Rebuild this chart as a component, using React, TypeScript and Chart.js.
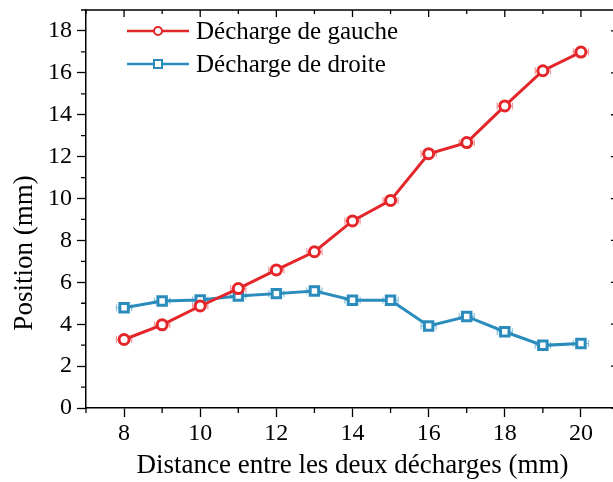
import React, { useEffect, useRef } from "react";
import { Chart, registerables } from "chart.js";

Chart.register(...registerables);

const distances = [8, 9, 10, 11, 12, 13, 14, 15, 16, 17, 18, 19, 20];
const gauche = [3.27, 3.97, 4.87, 5.70, 6.59, 7.46, 8.93, 9.91, 12.14, 12.67, 14.42, 16.10, 16.99];
const droite = [4.79, 5.11, 5.16, 5.35, 5.46, 5.59, 5.14, 5.14, 3.92, 4.37, 3.64, 2.99, 3.08];
const xErrGauche = [0.2, 0.2, 0.2, 0.2, 0.2, 0.2, 0.2, 0.2, 0.2, 0.2, 0.2, 0.2, 0.2];
const xErrDroite = [0.2, 0.2, 0.2, 0.2, 0.2, 0.2, 0.2, 0.2, 0.2, 0.2, 0.2, 0.2, 0.2];
const seriesLabels = ["Décharge de gauche", "Décharge de droite"];
const xTitle = "Distance entre les deux décharges (mm)";
const yTitle = "Position (mm)";

const RED = "#e4262a";
const BLUE = "#2a8cbc";
const RED_LIGHT = "#f2999b";
const BLUE_LIGHT = "#8cc3de";
const FONT = "'Liberation Serif', 'Times New Roman', serif";

const W = 640;
const H = 474;

function zeroPad(s: any) {
  s.paddingTop = 0;
  s.paddingBottom = 0;
  s.paddingLeft = 0;
  s.paddingRight = 0;
}

export default function App() {
  const ref = useRef<HTMLCanvasElement | null>(null);
  useEffect(() => {
    const canvas = ref.current!;
    const errPlugin = {
      id: "errbars",
      beforeDatasetsDraw(chart: any) {
        const ctx = chart.ctx;
        const xs = chart.scales.x;
        const ys = chart.scales.y;
        const sets = [
          { v: gauche, e: xErrGauche, c: RED_LIGHT },
          { v: droite, e: xErrDroite, c: BLUE_LIGHT },
        ];
        ctx.save();
        ctx.lineWidth = 1.2;
        sets.forEach((s) => {
          ctx.strokeStyle = s.c;
          distances.forEach((d, i) => {
            const y = ys.getPixelForValue(s.v[i]);
            const x1 = xs.getPixelForValue(d - s.e[i]);
            const x2 = xs.getPixelForValue(d + s.e[i]);
            ctx.beginPath();
            ctx.moveTo(x1, y);
            ctx.lineTo(x2, y);
            ctx.moveTo(x1, y - 3.5);
            ctx.lineTo(x1, y + 3.5);
            ctx.moveTo(x2, y - 3.5);
            ctx.lineTo(x2, y + 3.5);
            ctx.stroke();
          });
        });
        ctx.restore();
      },
    };
    const framePlugin = {
      id: "frame",
      afterDraw(chart: any) {
        const ctx = chart.ctx;
        const { left, right, top, bottom } = chart.chartArea;
        const xs = chart.scales.x;
        const ys = chart.scales.y;
        ctx.save();
        ctx.strokeStyle = "#000";
        ctx.lineWidth = 1.5;
        ctx.beginPath();
        ctx.moveTo(left, top);
        ctx.lineTo(right, top);
        ctx.lineTo(right, bottom);
        ctx.stroke();
        ctx.lineWidth = 1.3;
        ctx.beginPath();
        for (let v = xs.min; v <= xs.max; v++) {
          const x = xs.getPixelForValue(v);
          const major = v % 2 === 0;
          if (!major) {
            ctx.moveTo(x, bottom);
            ctx.lineTo(x, bottom + 5);
          }
          ctx.moveTo(x, top);
          ctx.lineTo(x, top + (major ? 7 : 4));
        }
        for (let v = ys.min; v <= ys.max; v++) {
          const y = ys.getPixelForValue(v);
          const major = v % 2 === 0;
          if (!major) {
            ctx.moveTo(left - 5, y);
            ctx.lineTo(left, y);
          }
          ctx.moveTo(right, y);
          ctx.lineTo(right - (major ? 8 : 4), y);
        }
        ctx.stroke();

        // y title
        ctx.fillStyle = "#000";
        ctx.font = `27px ${FONT}`;
        ctx.textAlign = "center";
        ctx.textBaseline = "middle";
        ctx.translate(17, 245);
        ctx.rotate(-Math.PI / 2);
        ctx.fillText(yTitle, 0, 0);
        ctx.restore();

        // legend
        ctx.save();
        const rows = [
          { label: seriesLabels[0], color: RED, style: "circle", y: 23 },
          { label: seriesLabels[1], color: BLUE, style: "rect", y: 56 },
        ];
        rows.forEach((r) => {
          ctx.strokeStyle = r.color;
          ctx.lineWidth = 2.5;
          ctx.beginPath();
          ctx.moveTo(119, r.y);
          ctx.lineTo(181, r.y);
          ctx.stroke();
          ctx.fillStyle = "#fff";
          ctx.lineWidth = 2;
          ctx.beginPath();
          if (r.style === "circle") {
            ctx.arc(150, r.y, 4, 0, Math.PI * 2);
          } else {
            ctx.rect(146, r.y - 4, 8, 8);
          }
          ctx.fill();
          ctx.stroke();
          ctx.fillStyle = "#000";
          ctx.font = `25px ${FONT}`;
          ctx.textAlign = "left";
          ctx.textBaseline = "middle";
          ctx.fillText(r.label, 188, r.y + 1);
        });
        ctx.restore();
      },
    };

    const tickFont = { family: FONT, size: 24 };
    const chart = new Chart(canvas, {
      type: "line",
      data: {
        datasets: [
          {
            label: seriesLabels[0],
            data: distances.map((d, i) => ({ x: d, y: gauche[i] })),
            borderColor: RED,
            backgroundColor: "#fff",
            borderWidth: 3,
            pointStyle: "circle",
            pointRadius: 5,
            pointBorderWidth: 3,
            pointBackgroundColor: "#fff",
            pointBorderColor: RED,
          },
          {
            label: seriesLabels[1],
            data: distances.map((d, i) => ({ x: d, y: droite[i] })),
            borderColor: BLUE,
            backgroundColor: "#fff",
            borderWidth: 3,
            pointStyle: "rect",
            pointRadius: 6,
            pointBorderWidth: 3,
            pointBackgroundColor: "#fff",
            pointBorderColor: BLUE,
          },
        ],
      },
      options: {
        responsive: false,
        animation: false,
        layout: { autoPadding: false, padding: { top: 2, right: W - 611, left: 0, bottom: 0 } },
        plugins: { legend: { display: false }, tooltip: { enabled: false } },
        scales: {
          x: {
            type: "linear",
            min: 7,
            max: 21,
            afterFit: (s: any) => {
              s.height = 74;
              zeroPad(s);
            },
            ticks: {
              stepSize: 1,
              autoSkip: false,
              maxRotation: 0,
              color: "#000",
              font: tickFont,
              padding: 2,
              callback: (v: any) => (v % 2 === 0 ? String(v) : ""),
            },
            grid: {
              display: true,
              drawOnChartArea: false,
              drawTicks: true,
              tickLength: 9,
              tickWidth: 1.3,
              tickColor: (c: any) => (c.tick && c.tick.value % 2 === 0 ? "#000" : "rgba(0,0,0,0)"),
            },
            border: { display: true, color: "#000", width: 1.5 },
            title: {
              display: true,
              text: xTitle,
              color: "#000",
              font: { family: FONT, size: 27 },
              padding: { top: 0, bottom: 0 },
            },
          },
          y: {
            type: "linear",
            min: 0,
            max: 19,
            afterFit: (s: any) => {
              s.width = 78;
              zeroPad(s);
            },
            ticks: {
              stepSize: 1,
              autoSkip: false,
              color: "#000",
              font: tickFont,
              padding: 5,
              callback: (v: any) => (v % 2 === 0 ? String(v) : ""),
            },
            grid: {
              display: true,
              drawOnChartArea: false,
              drawTicks: true,
              tickLength: 9,
              tickWidth: 1.3,
              tickColor: (c: any) => (c.tick && c.tick.value % 2 === 0 ? "#000" : "rgba(0,0,0,0)"),
            },
            border: { display: true, color: "#000", width: 1.5 },
          },
        },
      },
      plugins: [errPlugin, framePlugin],
    } as any);
    return () => chart.destroy();
  }, []);

  return (
    <div
      style={{
        position: "absolute",
        left: 8,
        top: 8,
        width: 605,
        height: 474,
        overflow: "hidden",
        background: "#fff",
      }}
    >
      <canvas ref={ref} width={W} height={H} style={{ width: W, height: H, display: "block" }} />
    </div>
  );
}
